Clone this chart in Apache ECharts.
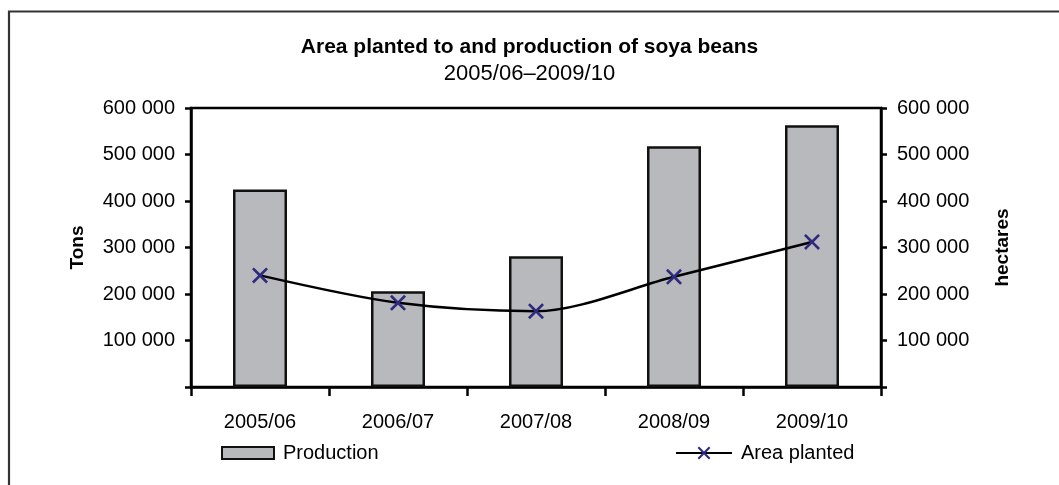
<!DOCTYPE html>
<html>
<head>
<meta charset="utf-8">
<title>Area planted to and production of soya beans</title>
<script src="https://cdn.jsdelivr.net/npm/echarts@6/dist/echarts.min.js"></script>
<style>
  html, body { margin: 0; padding: 0; background: #ffffff; }
  #chart { width: 1059px; height: 485px; }
</style>
</head>
<body>
<div id="chart"></div>
<script>
// Marketing seasons
const seasons = ['2005/06', '2006/07', '2007/08', '2008/09', '2009/10'];
// Soya bean production, tons (left axis)
const production = [425000, 206000, 281000, 518000, 563000];
// Area planted, hectares (right axis)
const areaPlanted = [240000, 181000, 163000, 237000, 312000];
// Value axis ticks
const axisMin = 0;
const axisMax = 600000;
const axisStep = 100000;

const FONT = '"Liberation Sans", Arial, sans-serif';

function spaced(v) {
  if (v === 0) return '';
  return String(v).replace(/\B(?=(\d{3})+(?!\d))/g, ' ');
}

// Cross-shaped marker drawn as a filled outline
const crossPath = 'path://M0,1.4L1.4,0L6,4.6L10.6,0L12,1.4L7.4,6L12,10.6L10.6,12L6,7.4L1.4,12L0,10.6L4.6,6Z';

function valueAxis(position, name, nameGap) {
  return {
    type: 'value',
    position: position,
    min: axisMin,
    max: axisMax,
    interval: axisStep,
    name: name,
    nameLocation: 'middle',
    nameRotate: 90,
    nameGap: nameGap,
    nameTextStyle: { fontFamily: FONT, fontSize: 19, fontWeight: 'bold', color: '#000' },
    axisLine: { show: true, lineStyle: { color: '#000', width: 2.5 } },
    axisTick: { show: true, inside: false, length: 6, lineStyle: { color: '#000', width: 2.5 } },
    axisLabel: { margin: 16, fontFamily: FONT, fontSize: 20, color: '#000', formatter: spaced },
    splitLine: { show: false }
  };
}

const chart = echarts.init(document.getElementById('chart'), null, { renderer: 'canvas' });

chart.setOption({
  backgroundColor: '#ffffff',
  animation: false,
  title: {
    text: 'Area planted to and production of soya beans',
    subtext: '2005/06\u20132009/10',
    left: 'center',
    top: 37,
    padding: [0, 0, 0, 9],
    itemGap: 5,
    textStyle: { fontFamily: FONT, fontSize: 21, fontWeight: 'bold', color: '#000' },
    subtextStyle: { fontFamily: FONT, fontSize: 22, color: '#000' }
  },
  graphic: [{
    type: 'rect',
    shape: { x: 9, y: 11.5, width: 1100, height: 500 },
    style: { fill: 'none', stroke: '#333333', lineWidth: 2.2 },
    silent: true,
    z: -10
  }],
  grid: {
    left: 191,
    right: 178,
    top: 108,
    bottom: 98,
    show: true,
    borderColor: '#000',
    borderWidth: 2.5,
    backgroundColor: 'transparent'
  },
  legend: [{
    data: [{ name: 'Production', icon: 'rect' }],
    left: 216,
    top: 438,
    itemWidth: 52,
    itemHeight: 12,
    textStyle: { fontFamily: FONT, fontSize: 20, color: '#000', padding: [0, 0, 0, 4] }
  }, {
    data: ['Area planted'],
    left: 670,
    top: 438,
    itemWidth: 56,
    itemHeight: 16,
    textStyle: { fontFamily: FONT, fontSize: 20, color: '#000', padding: [0, 0, 0, 4] }
  }],
  xAxis: {
    type: 'category',
    data: seasons,
    boundaryGap: true,
    axisLine: { show: true, lineStyle: { color: '#000', width: 2.5 } },
    axisTick: { show: true, interval: 0, length: 9, lineStyle: { color: '#000', width: 2.5 } },
    axisLabel: { interval: 0, margin: 25, fontFamily: FONT, fontSize: 20, color: '#000' },
    splitLine: { show: false }
  },
  yAxis: [
    valueAxis('left', 'Tons', 104),
    valueAxis('right', 'hectares', 112)
  ],
  series: [{
    name: 'Production',
    type: 'bar',
    data: production,
    yAxisIndex: 0,
    barWidth: 54,
    itemStyle: { color: '#b8b9bd', borderColor: '#111', borderWidth: 2.5 },
    z: 2
  }, {
    name: 'Area planted',
    type: 'line',
    data: areaPlanted,
    yAxisIndex: 1,
    smooth: 0.3,
    symbol: crossPath,
    symbolSize: 16,
    showAllSymbol: true,
    lineStyle: { color: '#000', width: 2.5 },
    itemStyle: { color: '#2e2a7e', borderWidth: 0 },
    z: 5
  }]
});
</script>
</body>
</html>
